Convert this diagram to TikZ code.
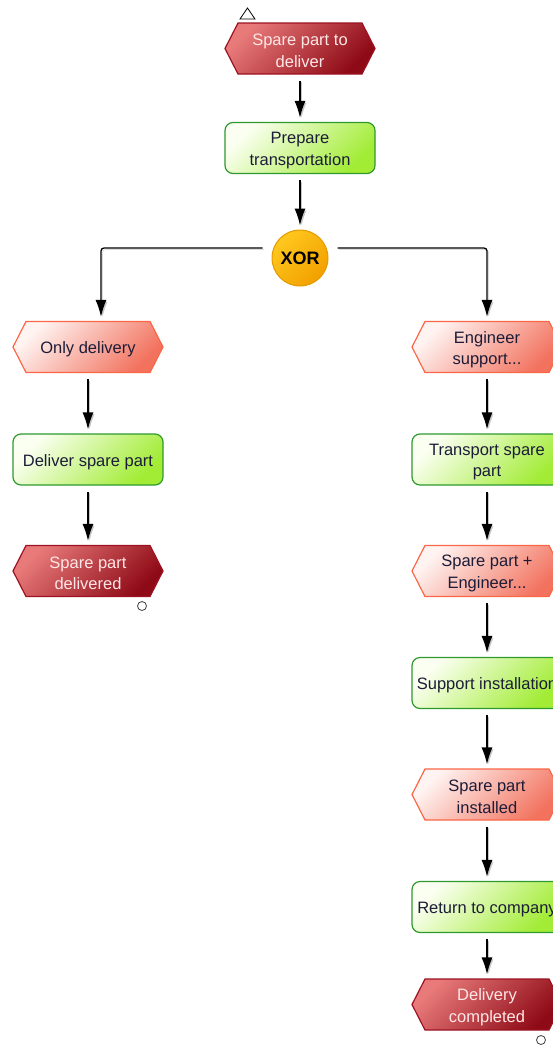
\documentclass[tikz,border=0pt]{standalone}
\usepackage{fontspec}
\setmainfont{Liberation Sans}
\usetikzlibrary{shapes.symbols,arrows.meta,calc}

\definecolor{evDarkA}{HTML}{E87A7A}
\definecolor{evDarkB}{HTML}{8E0A16}
\definecolor{evDarkLine}{HTML}{9C1222}
\definecolor{evDarkText}{HTML}{FFE6E6}
\definecolor{evLightA}{HTML}{FFF4F2}
\definecolor{evLightB}{HTML}{F2725E}
\definecolor{evLightLine}{HTML}{FA6646}
\definecolor{fnA}{HTML}{FBFFF2}
\definecolor{fnB}{HTML}{A2EC36}
\definecolor{fnLine}{HTML}{2E9A2E}
\definecolor{xorA}{HTML}{FFC81E}
\definecolor{xorB}{HTML}{F2A000}
\definecolor{xorLine}{HTML}{E39A00}
\definecolor{labelInk}{HTML}{1C1C38}

\begin{document}
\begin{tikzpicture}[x=1pt,y=-1pt,
  % shape only; the caption is set as a centred label, a little below the middle
  boxbase/.style={minimum width=150pt, minimum height=51pt, inner sep=0pt, line width=1.2pt},
  captionof/.style={align=center, font=\fontsize{16.5}{21.5}\selectfont,
    text=#1, yshift=-2.5pt, inner sep=0pt},
  hexbase/.style={boxbase, signal, signal to=west and east, signal pointer angle=126},
  evdark/.style={hexbase, draw=evDarkLine, left color=evDarkA, right color=evDarkB,
    shading angle=45},
  evlight/.style={hexbase, draw=evLightLine, left color=evLightA, right color=evLightB,
    shading angle=45},
  func/.style={boxbase, rectangle, rounded corners=8pt, draw=fnLine, left color=fnA,
    right color=fnB, shading angle=45},
  xorgate/.style={circle, minimum size=56pt, inner sep=0pt, draw=xorLine, line width=1pt,
    left color=xorA, right color=xorB, shading angle=45,
    font=\fontsize{18}{20}\selectfont\bfseries, text=black},
  endmark/.style={circle, minimum size=9pt, inner sep=0pt, draw=black!75, line width=0.8pt, fill=white},
  flow/.style={draw=black, line width=1.3pt, -{Latex[length=17pt,width=11pt]},
    shorten <=6pt, shorten >=4pt,
    preaction={draw=black!22, transform canvas={shift={(1.6pt,-1.6pt)}}}},
]
\useasboundingbox (0,0) rectangle (552,1047);

\newcommand{\evDark}[3]{\node[evdark, label={[captionof=evDarkText]center:#3}] (#1) at #2 {};}
\newcommand{\evLight}[3]{\node[evlight, label={[captionof=labelInk]center:#3}] (#1) at #2 {};}
\newcommand{\fnBox}[3]{\node[func, label={[captionof=labelInk]center:#3}] (#1) at #2 {};}

% start marker
\draw[line width=0.8pt, line join=miter] (247.5,8) -- (255,19) -- (240,19) -- cycle;

% main trunk
\evDark{e1}{(300,48.5)}{Spare part to\\deliver}
\fnBox{f1}{(300,148)}{Prepare\\transportation}
\node[xorgate] (x) at (300,258) {XOR};

% left branch
\evLight{l1}{(88,347)}{Only delivery}
\fnBox{l2}{(88,459.5)}{Deliver spare part}
\evDark{l3}{(88,571)}{Spare part\\delivered}
\node[endmark] (lend) at (142,606) {};

% right branch
\evLight{r1}{(487,347)}{Engineer\\support...}
\fnBox{r2}{(487,459.5)}{Transport spare\\part}
\evLight{r3}{(487,571)}{Spare part +\\Engineer...}
\fnBox{r4}{(487,683)}{Support installation}
\evLight{r5}{(487,794.5)}{Spare part\\installed}
\fnBox{r6}{(487,907)}{Return to company}
\evDark{r7}{(487,1004.5)}{Delivery\\completed}
\node[endmark] (rend) at (541,1040) {};

% connectors
\draw[flow] (e1) -- (f1);
\draw[flow] (f1) -- (x);
\draw[flow, shorten <=0pt, rounded corners=3pt]
  ([xshift=-9pt,yshift=10pt]x.west) -| ([xshift=13pt]l1.north);
\draw[flow, shorten <=0pt, rounded corners=3pt]
  ([xshift=9pt,yshift=10pt]x.east) -| (r1.north);
\draw[flow] (l1) -- (l2);
\draw[flow] (l2) -- (l3);
\draw[flow] (r1) -- (r2);
\draw[flow] (r2) -- (r3);
\draw[flow] (r3) -- (r4);
\draw[flow] (r4) -- (r5);
\draw[flow] (r5) -- (r6);
\draw[flow] (r6) -- (r7);
\end{tikzpicture}
\end{document}
